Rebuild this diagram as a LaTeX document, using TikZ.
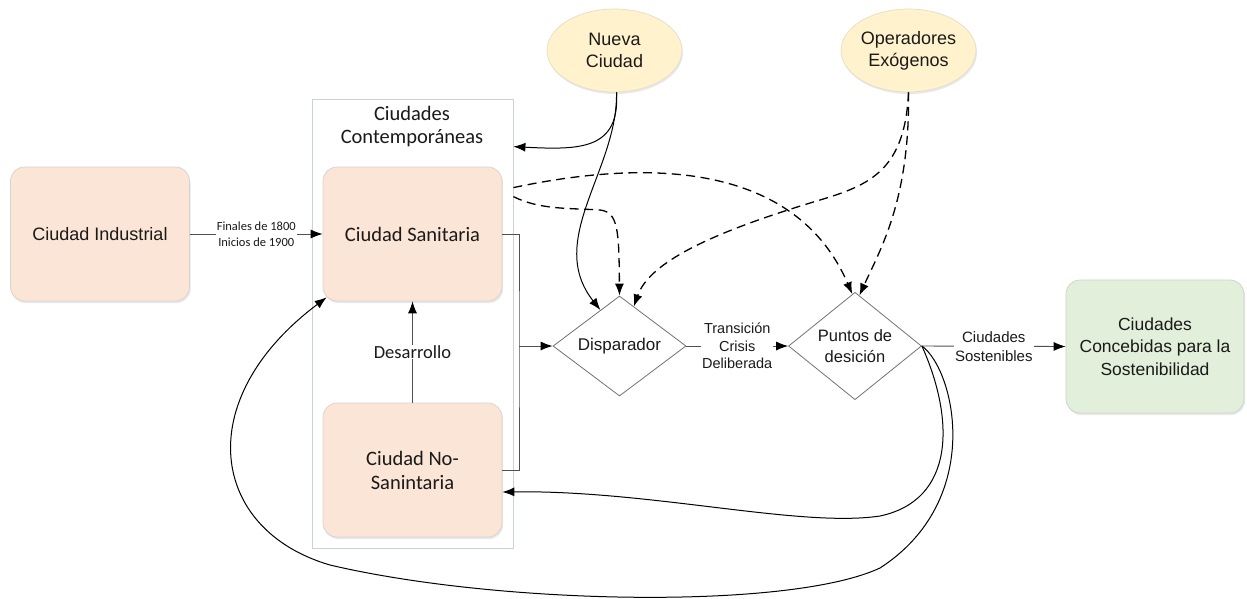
\documentclass[tikz,border=0pt]{standalone}
\usepackage{fontspec}
\setmainfont{Liberation Sans}
\newfontfamily\carl{Carlito}
\usetikzlibrary{shapes.geometric,arrows.meta,calc,shadows}
\definecolor{peach}{HTML}{FBE5D6}
\definecolor{peachb}{HTML}{D8D2CE}
\definecolor{yel}{HTML}{FFF2CC}
\definecolor{yelb}{HTML}{E4DDC8}
\definecolor{grn}{HTML}{E2EFDA}
\definecolor{grnb}{HTML}{CBD3C6}
\definecolor{contb}{HTML}{C8D2DC}
\definecolor{lineg}{HTML}{505050}
\definecolor{txt}{HTML}{1A1A1A}
\begin{document}
\begin{tikzpicture}[x=1pt,y=-1pt,
  every node/.style={text=txt},
  shd/.style={drop shadow={opacity=0.18,shadow xshift=1pt,shadow yshift=-2pt}},
  pbox/.style={rectangle,rounded corners=14pt,fill=peach,draw=peachb,line width=0.7pt,
    minimum width=179pt,minimum height=134pt,inner sep=0pt,align=center,shd},
  ell/.style={ellipse,fill=yel,draw=yelb,line width=0.7pt,minimum width=135pt,
    minimum height=83pt,inner sep=0pt,align=center,shd,font=\fontsize{18}{22}\selectfont},
  dia/.style={diamond,fill=white,draw=lineg!80,line width=0.8pt,minimum width=133pt,
    minimum height=100pt,inner sep=0pt,align=center},
  tip/.style={-{Latex[length=12pt,width=9pt,color=black]}},
  conn/.style={draw=lineg,line width=0.9pt,tip},
  gline/.style={draw=lineg,line width=0.9pt},
  crv/.style={draw=black,line width=1pt,tip},
  dsh/.style={draw=black,line width=1.3pt,dash pattern=on 9pt off 5.5pt,tip},
  lbl/.style={fill=white,inner sep=1pt,align=center}
]
\useasboundingbox (0,0) rectangle (1247,598);

% container
\node[draw=contb,line width=0.8pt,fill=white,minimum width=201pt,minimum height=449pt,inner sep=0pt] (cont) at (412.5,323.5) {};
\node[align=center,font=\carl\fontsize{20.5}{23}\selectfont] (ctitle) at (412,127) {Ciudades\\Contemporáneas};

% boxes
\node[pbox,font=\fontsize{18}{22}\selectfont] (ind) at (100,234) {Ciudad Industrial};
\node[pbox,font=\carl\fontsize{20.5}{24}\selectfont] (ss) at (412.5,234) {Ciudad Sanitaria};
\node[pbox,font=\carl\fontsize{20.5}{24}\selectfont] (ns) at (412.5,470) {Ciudad No-\\Sanintaria};
\node[pbox,fill=grn,draw=grnb,minimum width=178pt,minimum height=133pt,font=\fontsize{17.5}{22.5}\selectfont] (gr) at (1155,346.5) {Ciudades\\Concebidas para la\\Sostenibilidad};

% ellipses
\node[ell] (nc) at (614.5,50.5) {Nueva\\Ciudad};
\node[ell] (oe) at (908.5,50.5) {Operadores\\Exógenos};

% diamonds
\node[dia,font=\fontsize{17}{21}\selectfont] (disp) at (619.5,346) {Disparador};
\node[dia,font=\fontsize{16.5}{21}\selectfont] (pd) at (855,346) {Puntos de\\desición};

% straight connectors
\draw[conn] (ind.east) -- node[lbl,font=\carl\fontsize{12.5}{16}\selectfont]{Finales de 1800\\Inicios de 1900} (ss.west);
\draw[conn] (ns.north) -- node[lbl,font=\carl\fontsize{18.5}{22}\selectfont]{Desarrollo} (ss.south);
\coordinate (br) at (519,346);
\draw[gline] (ss.east) -| (br) |- (ns.east);
\draw[conn] (br) -- (disp.west);
\draw[conn] (disp.east) -- node[lbl,font=\fontsize{14.5}{17.5}\selectfont]{Transición\\Crisis\\Deliberada} (pd.west);
\draw[conn] (pd.east) -- node[lbl,font=\fontsize{15}{19}\selectfont]{Ciudades\\Sostenibles} (gr.west);

% Nueva Ciudad curves
\coordinate (ctop) at ($(cont.north east)+(0,48)$);
\coordinate (ncs) at ($(nc.south)+(2,0)$);
\draw[crv] (ncs) .. controls (620,150) and (580,150) .. (ctop);
\draw[crv] (ncs) .. controls (618,170) and (545,240) .. (disp.118);

% dashed from Ciudad Sanitaria
\coordinate (c1) at ($(cont.north east)+(0,98)$);
\coordinate (c2) at ($(cont.north east)+(0,89)$);
\draw[dsh] (c1) .. controls (540,210) and (570,208) .. (600,210) .. controls (618,212) and (619,230) .. (disp.north);
\draw[dsh] (c2) .. controls (620,165) and (790,150) .. (pd.93);

% dashed from Operadores
\draw[dsh] (oe.south) .. controls (910,200) and (880,250) .. (pd.85);
\draw[dsh] (oe.south) .. controls (905,170) and (870,185) .. (820,200) .. controls (720,230) and (650,260) .. (disp.70);

% feedback curves
\coordinate (nst) at ($(ns.east)+(0,22)$);
\draw[crv] (pd.east) .. controls (955,420) and (955,500) .. (880,516) .. controls (800,528) and (650,490) .. (nst);
\coordinate (sst) at ($(ss.south west)+(4,-4)$);
\draw[crv] (pd.east) .. controls (955,370) and (985,500) .. (880,568) .. controls (790,610) and (500,605) .. (330,565) .. controls (210,530) and (190,400) .. (sst);
\end{tikzpicture}
\end{document}
